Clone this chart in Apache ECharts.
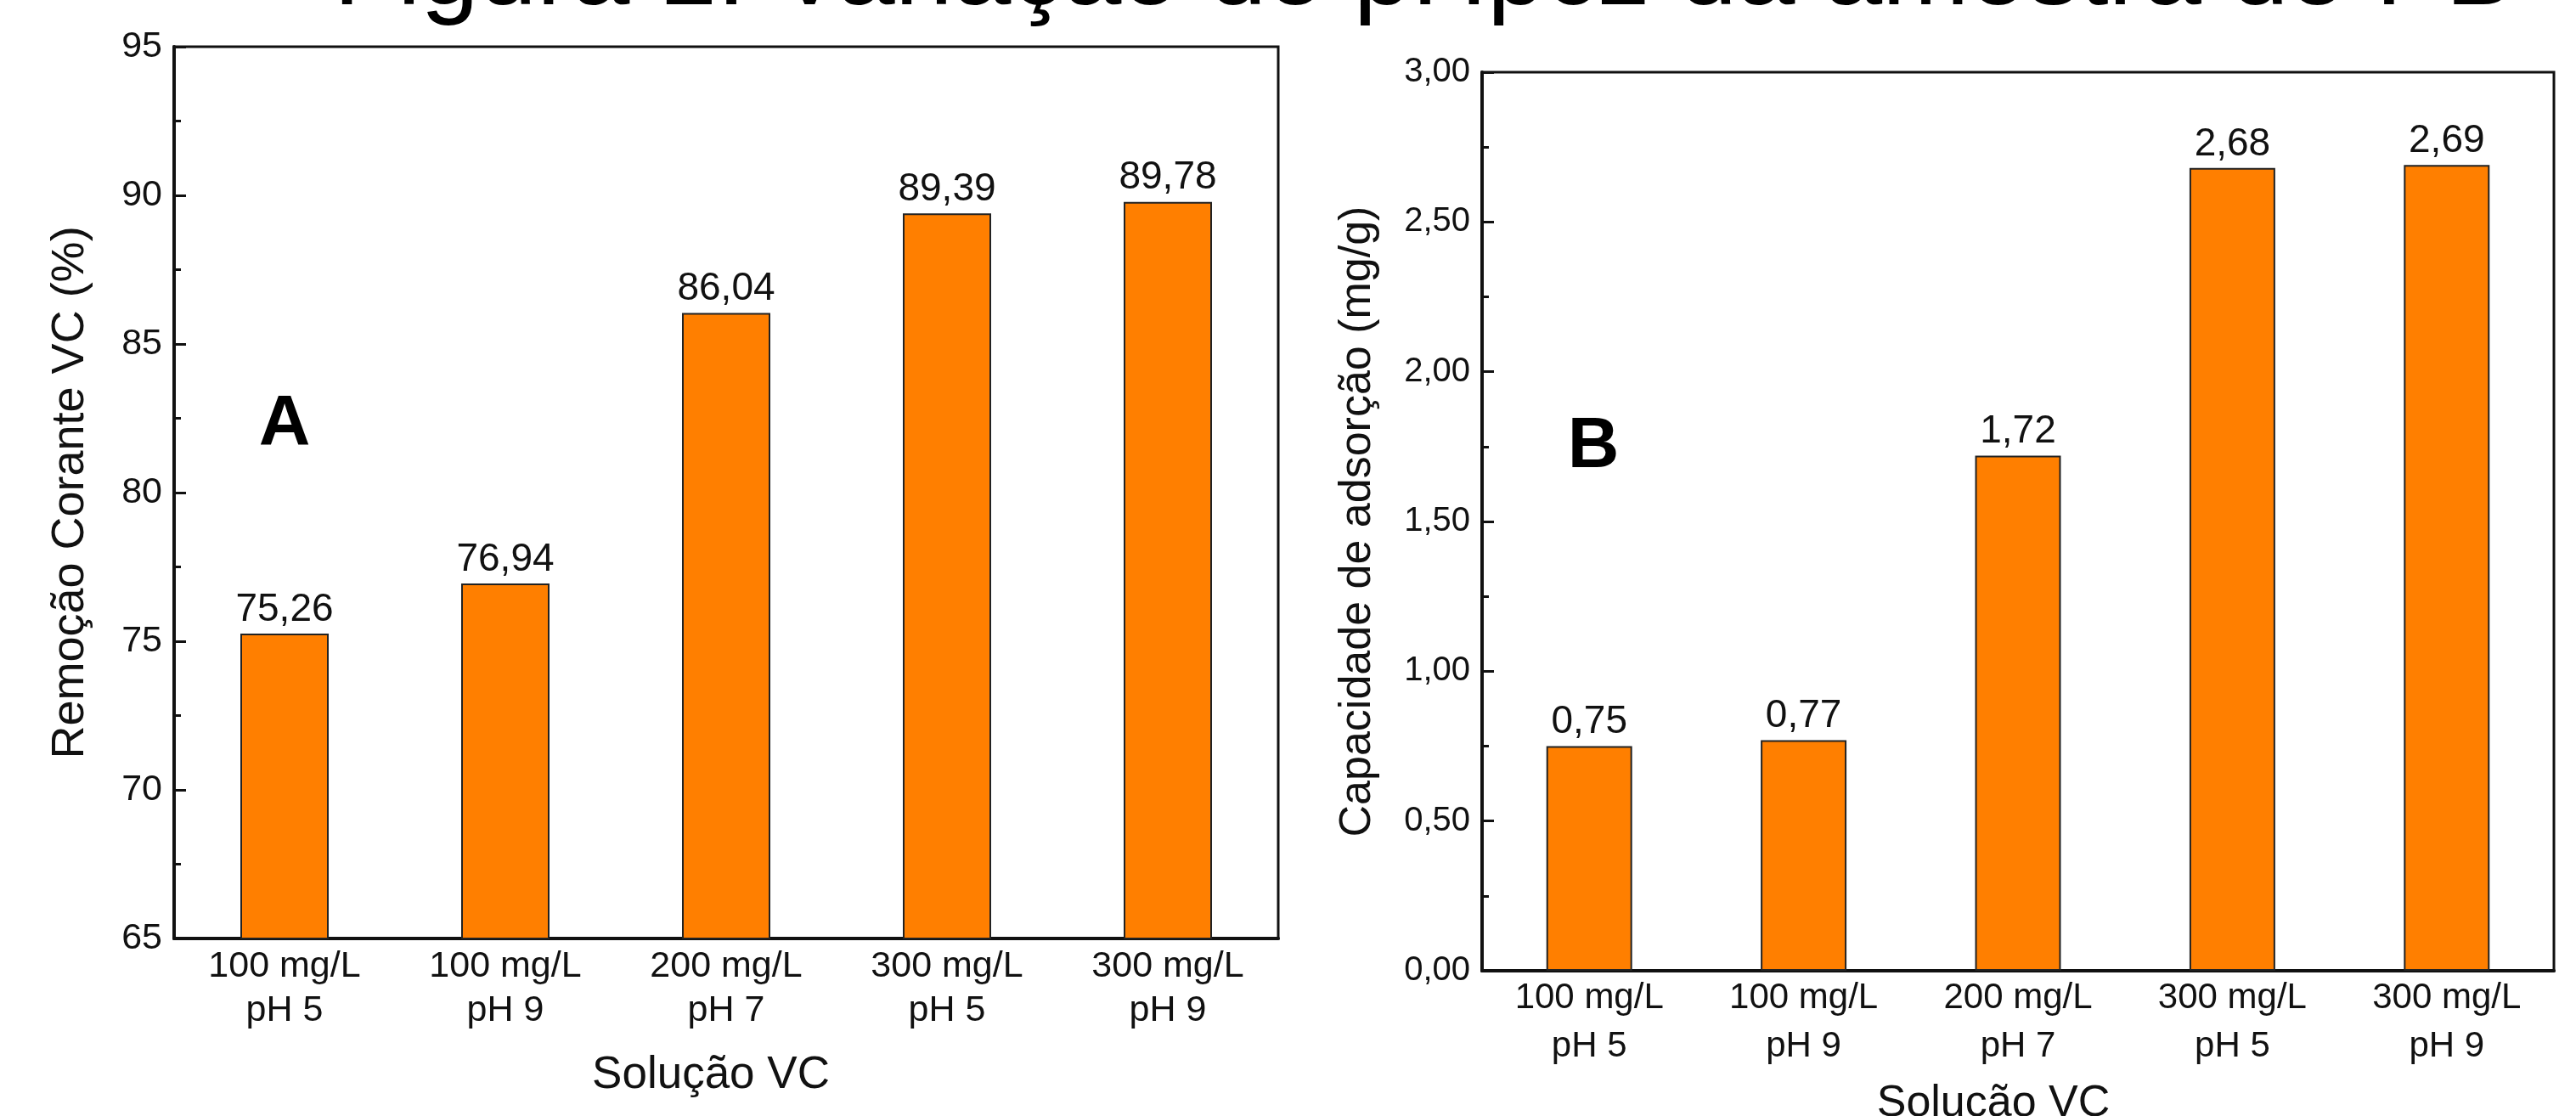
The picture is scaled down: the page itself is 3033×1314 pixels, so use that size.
<!DOCTYPE html>
<html>
<head>
<meta charset="utf-8">
<script src="https://cdn.jsdelivr.net/npm/echarts@6/dist/echarts.min.js"></script>
<style>
html,body{margin:0;padding:0;background:#fff;}
#chart{width:3033px;height:1314px;}
</style>
</head>
<body>
<div id="chart"></div>
<script>
// ---- data ----
const categories = ['100 mg/L\npH 5', '100 mg/L\npH 9', '200 mg/L\npH 7', '300 mg/L\npH 5', '300 mg/L\npH 9'];
const remocaoValues = [75.26, 76.94, 86.04, 89.39, 89.78];
const capacidadeValues = [0.75, 0.77, 1.72, 2.68, 2.69];
const remocaoTicks = [65, 70, 75, 80, 85, 90, 95];
const capacidadeTicks = ['0,00', '0,50', '1,00', '1,50', '2,00', '2,50', '3,00'];
const titleText = 'Figura 1: Variação do pHpcz da amostra do PB';

const FONT = '"Liberation Sans", Arial, sans-serif';
const INK = '#111';
const ORANGE = '#FF7F00';
const comma = v => v.toFixed(2).replace('.', ',');

const chart = echarts.init(document.getElementById('chart'));

function yAxisBase(gridIndex, min, max, interval, fmt, name, nameGap, nameSize, labelSize) {
  return {
    type: 'value', gridIndex, min, max, interval,
    name, nameLocation: 'middle', nameGap,
    nameTextStyle: { fontFamily: FONT, fontSize: nameSize, color: INK },
    axisLine: { show: true, lineStyle: { color: INK, width: 4 } },
    axisTick: { show: true, inside: true, length: 14, lineStyle: { color: INK, width: 3 } },
    minorTick: { show: true, splitNumber: 2, length: 8, lineStyle: { color: INK, width: 3 } },
    splitLine: { show: false },
    axisLabel: { fontFamily: FONT, fontSize: labelSize, color: INK, margin: 14, formatter: fmt }
  };
}

function xAxisBase(gridIndex, labelSize, lineHeight, margin, nameGap, nameSize, shift) {
  return {
    type: 'category', gridIndex, data: categories,
    name: 'Solução VC', nameLocation: 'middle', nameGap,
    nameTextStyle: { fontFamily: FONT, fontSize: nameSize, color: INK, padding: [0, shift, 0, 0] },
    axisLine: { show: true, lineStyle: { color: INK, width: 4 } },
    axisTick: { show: false },
    axisLabel: { interval: 0, fontFamily: FONT, fontSize: labelSize, lineHeight, color: INK, margin }
  };
}

function barSeries(idx, data) {
  return {
    type: 'bar', xAxisIndex: idx, yAxisIndex: idx, data,
    barWidth: '40%',
    itemStyle: { color: ORANGE, borderColor: '#222', borderWidth: 2 },
    label: { show: true, position: 'top', distance: 5, fontFamily: FONT, fontSize: 46, color: INK,
             formatter: p => comma(p.value) }
  };
}

const option = {
  backgroundColor: '#fff',
  animation: false,
  grid: [
    { left: 205, top: 55, width: 1300, height: 1050, outerBoundsMode: 'none', containLabel: false,
      show: true, borderColor: INK, borderWidth: 3, backgroundColor: 'transparent' },
    { left: 1745, top: 85, width: 1262, height: 1058, outerBoundsMode: 'none', containLabel: false,
      show: true, borderColor: INK, borderWidth: 3, backgroundColor: 'transparent' }
  ],
  xAxis: [
    xAxisBase(0, 43, 52, 7, 135, 53, 36),
    xAxisBase(1, 42, 57, 4, 131, 52, 58)
  ],
  yAxis: [
    yAxisBase(0, remocaoTicks[0], remocaoTicks[remocaoTicks.length - 1], 5, v => String(v),
              'Remoção Corante VC (%)', 95, 54, 43),
    yAxisBase(1, 0, 3, 0.5, v => capacidadeTicks[Math.round(v / 0.5)],
              'Capacidade de adsorção (mg/g)', 120, 52, 40)
  ],
  series: [
    barSeries(0, remocaoValues),
    barSeries(1, capacidadeValues)
  ],
  graphic: [
    { type: 'text', x: 1677, y: -29, style: { text: titleText, font: '123px "Liberation Sans", Arial, sans-serif', fill: '#000', align: 'center', verticalAlign: 'middle' } },
    { type: 'text', x: 335, y: 501, style: { text: 'A', font: 'bold 84px "Liberation Sans", Arial, sans-serif', fill: '#000', align: 'center', verticalAlign: 'middle' } },
    { type: 'text', x: 1876, y: 527, style: { text: 'B', font: 'bold 84px "Liberation Sans", Arial, sans-serif', fill: '#000', align: 'center', verticalAlign: 'middle' } }
  ]
};
chart.setOption(option);
</script>
</body>
</html>
